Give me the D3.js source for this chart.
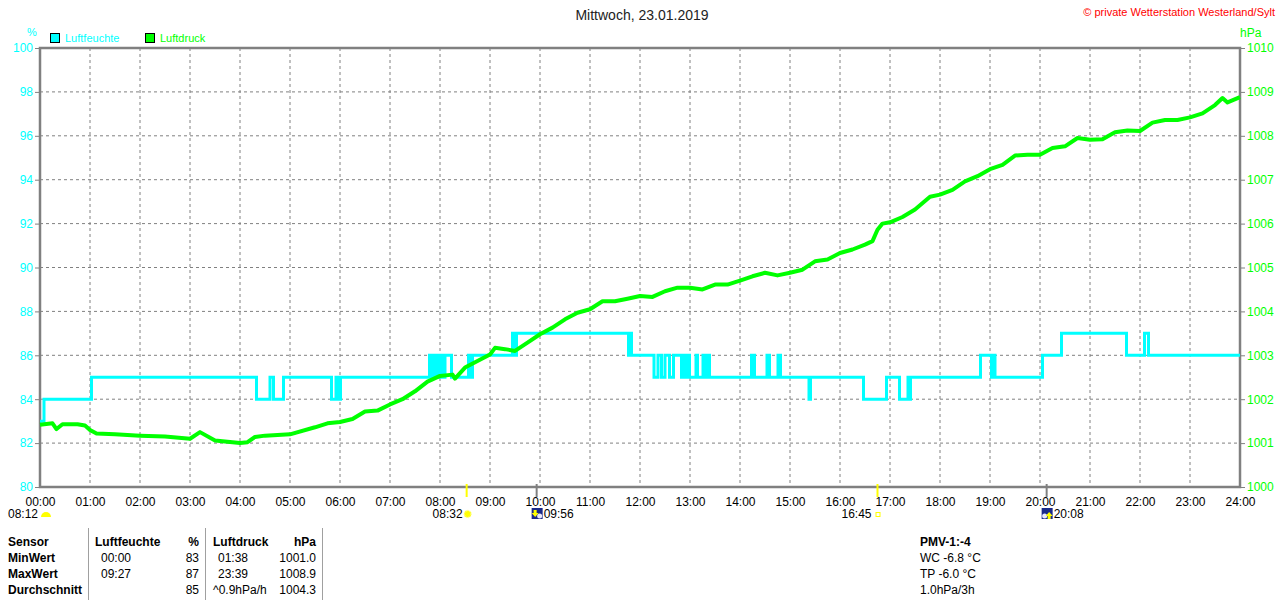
<!DOCTYPE html>
<html>
<head>
<meta charset="utf-8">
<script src="https://cdn.jsdelivr.net/npm/d3@7"></script>
<style>
  body { margin: 0; background: #fff; }
  svg { display: block; font-family: "Liberation Sans", Arial, sans-serif; }
</style>
</head>
<body>
<svg width="1280" height="600"></svg>
<script>
const hourLabels = d3.range(0, 25).map(h => String(h).padStart(2, '0') + ':00');
const humTicks = [80, 82, 84, 86, 88, 90, 92, 94, 96, 98, 100];
const presTicks = [1000, 1001, 1002, 1003, 1004, 1005, 1006, 1007, 1008, 1009, 1010];

// Luftfeuchte: [Stunde, %] — Wert gilt ab diesem Zeitpunkt
const humSteps = [
  [0, 83], [0.08, 84], [1.03, 85], [4.33, 84], [4.6, 85], [4.67, 84], [4.87, 85],
  [5.83, 84], [5.92, 85], [5.95, 84], [6.01, 85],
  [7.79, 86], [7.83, 85], [7.86, 86], [7.9, 85], [7.94, 86], [7.98, 85], [8.02, 86], [8.04, 85],
  [8.1, 86], [8.23, 85], [8.57, 86], [8.61, 85], [8.65, 86],
  [9.45, 87], [9.5, 86], [9.53, 87],
  [11.77, 86], [11.8, 87], [11.83, 86],
  [12.28, 85], [12.36, 86], [12.43, 85], [12.5, 86], [12.59, 85], [12.67, 86],
  [12.83, 85], [12.87, 86], [12.9, 85], [12.95, 86], [12.99, 85],
  [13.12, 86], [13.15, 85], [13.26, 86], [13.29, 85], [13.35, 86], [13.39, 85],
  [14.23, 86], [14.29, 85], [14.54, 86], [14.59, 85], [14.76, 86], [14.81, 85],
  [15.38, 84], [15.41, 85], [16.47, 84], [16.93, 85], [17.19, 84], [17.36, 85], [17.38, 84], [17.41, 85],
  [18.81, 86], [19.03, 85], [19.05, 86], [19.1, 85], [20.05, 86], [20.43, 87],
  [21.73, 86], [22.09, 87], [22.17, 86], [24, 86]
];

// Luftdruck: Stunden und hPa
const presHours = [
  0, 0.25, 0.33, 0.45, 0.75, 0.9, 1.0, 1.13, 1.5, 2.0, 2.5, 3.0, 3.2, 3.5, 3.75, 4.0, 4.15, 4.3, 4.5, 5.0,
  5.5, 5.75, 6.0, 6.25, 6.5, 6.75, 7.0, 7.25, 7.5, 7.75, 8.0, 8.25, 8.3, 8.5, 8.75, 9.0, 9.1, 9.3, 9.5, 9.75,
  10.0, 10.25, 10.5, 10.75, 11.0, 11.25, 11.5, 11.75, 12.0, 12.25, 12.5, 12.75, 13.0, 13.25, 13.5, 13.75,
  14.0, 14.25, 14.5, 14.75, 15.0, 15.25, 15.5, 15.75, 16.0, 16.25, 16.5, 16.65, 16.75, 16.85, 17.0, 17.25,
  17.5, 17.8, 18.0, 18.25, 18.5, 18.75, 19.0, 19.25, 19.5, 19.75, 20.0, 20.25, 20.5, 20.75, 21.0, 21.25,
  21.5, 21.75, 22.0, 22.25, 22.5, 22.75, 23.0, 23.25, 23.5, 23.65, 23.75, 24.0
];
const presValues = [
  1001.42, 1001.45, 1001.32, 1001.43, 1001.43, 1001.4, 1001.3, 1001.22, 1001.2, 1001.17, 1001.15, 1001.1,
  1001.25, 1001.06, 1001.03, 1001.0, 1001.02, 1001.14, 1001.17, 1001.2,
  1001.36, 1001.45, 1001.48, 1001.55, 1001.72, 1001.74, 1001.88, 1002.0, 1002.18, 1002.4, 1002.53, 1002.56,
  1002.47, 1002.72, 1002.87, 1003.02, 1003.17, 1003.14, 1003.1, 1003.29,
  1003.48, 1003.63, 1003.82, 1003.97, 1004.05, 1004.23, 1004.23, 1004.29, 1004.35, 1004.33, 1004.46, 1004.54,
  1004.54, 1004.5, 1004.61, 1004.61,
  1004.7, 1004.8, 1004.88, 1004.82, 1004.88, 1004.95, 1005.14, 1005.18, 1005.33, 1005.41, 1005.52, 1005.6,
  1005.86, 1006.0, 1006.03, 1006.15,
  1006.32, 1006.61, 1006.66, 1006.77, 1006.96, 1007.08, 1007.24, 1007.34, 1007.55, 1007.57, 1007.57, 1007.72,
  1007.76, 1007.95, 1007.91, 1007.92,
  1008.08, 1008.12, 1008.11, 1008.30, 1008.36, 1008.36, 1008.42, 1008.51, 1008.70, 1008.86, 1008.76, 1008.88
];

// Sonne / Mond Ereignisse
const sunEvents = [
  { hour: 8.12, label: '08:12', kind: 'rise' },
  { hour: 8.533, label: '08:32', kind: 'sun' },
  { hour: 9.933, label: '09:56', kind: 'moonset' },
  { hour: 16.75, label: '16:45', kind: 'set' },
  { hour: 20.133, label: '20:08', kind: 'moonrise' }
];

const tableHeader = ['Sensor', 'Luftfeuchte', '%', 'Luftdruck', 'hPa'];
const tableRows = [
  ['MinWert', '00:00', '83', '01:38', '1001.0'],
  ['MaxWert', '09:27', '87', '23:39', '1008.9'],
  ['Durchschnitt', '', '85', '^0.9hPa/h', '1004.3']
];
const pmvLines = ['PMV-1:-4', 'WC -6.8 °C', 'TP -6.0 °C', '1.0hPa/3h'];

const cyan = '#00ffff', green = '#00ff00', grey = '#808080';
const L = 40, R = 1240, T = 48, B = 487;

const svg = d3.select('svg');
const x = d3.scaleLinear().domain([0, 24]).range([L, R]);
const yH = d3.scaleLinear().domain([80, 100]).range([B, T]);
const yP = d3.scaleLinear().domain([1000, 1010]).range([B, T]);

// Raster
svg.append('g').selectAll('line').data(d3.range(1, 24)).join('line')
  .attr('x1', d => x(d)).attr('x2', d => x(d)).attr('y1', T).attr('y2', B)
  .attr('stroke', grey).attr('stroke-dasharray', '3,3');
svg.append('g').selectAll('line').data(humTicks.slice(1, -1)).join('line')
  .attr('x1', L).attr('x2', R).attr('y1', d => yH(d)).attr('y2', d => yH(d))
  .attr('stroke', grey).attr('stroke-dasharray', '3,3');

// Achsen
const axL = svg.append('g').attr('transform', `translate(${L},0)`)
  .call(d3.axisLeft(yH).tickValues(humTicks).tickSize(5).tickPadding(2));
axL.selectAll('text').attr('fill', cyan).style('font-size', '12px');
const axR = svg.append('g').attr('transform', `translate(${R},0)`)
  .call(d3.axisRight(yP).tickValues(presTicks).tickSize(5).tickPadding(2).tickFormat(d3.format('d')));
axR.selectAll('text').attr('fill', green).style('font-size', '12px');
[axL, axR].forEach(a => {
  a.select('.domain').remove();
  a.selectAll('line').attr('stroke', grey);
});

const axB = svg.append('g').attr('transform', `translate(0,${B})`)
  .call(d3.axisBottom(x).tickValues(d3.range(0, 25)).tickSize(0).tickPadding(10)
    .tickFormat(d => hourLabels[d]));
axB.select('.domain').remove();
axB.selectAll('text').attr('fill', '#000').style('font-size', '12px');

// Rahmen
svg.append('rect').attr('x', L).attr('y', T).attr('width', R - L).attr('height', B - T)
  .attr('fill', 'none').attr('stroke', grey).attr('stroke-width', 2.5);

// Linien
const humLine = d3.line().x(d => x(d[0])).y(d => yH(d[1])).curve(d3.curveStepAfter);
svg.append('path').datum(humSteps).attr('d', humLine)
  .attr('fill', 'none').attr('stroke', cyan).attr('stroke-width', 3);

const presData = presHours.map((h, i) => [h, presValues[i]]);
const presLine = d3.line().x(d => x(d[0])).y(d => yP(d[1]));
svg.append('path').datum(presData).attr('d', presLine)
  .attr('fill', 'none').attr('stroke', green).attr('stroke-width', 4).attr('stroke-linejoin', 'round');

// Legende, Einheiten, Titel
svg.append('text').attr('x', 27).attr('y', 36).attr('fill', cyan).style('font-size', '11px').text('%');
svg.append('text').attr('x', 1240).attr('y', 37).attr('fill', green).style('font-size', '12px').text('hPa');
const legend = [{ name: 'Luftfeuchte', color: cyan, x: 50 }, { name: 'Luftdruck', color: green, x: 145 }];
legend.forEach(l => {
  svg.append('rect').attr('x', l.x + 0.5).attr('y', 33.5).attr('width', 9).attr('height', 9)
    .attr('fill', l.color).attr('stroke', '#000');
  svg.append('text').attr('x', l.x + 15).attr('y', 42).attr('fill', l.color)
    .style('font-size', '11px').text(l.name);
});
svg.append('text').attr('x', 642).attr('y', 20).attr('text-anchor', 'middle').attr('fill', '#222')
  .style('font-size', '14px').text('Mittwoch, 23.01.2019');
svg.append('text').attr('x', 1275).attr('y', 16).attr('text-anchor', 'end').attr('fill', '#ff0000')
  .style('font-size', '11px').text('© private Wetterstation Westerland/Sylt');

// Sonnen-/Mondmarker
const ev = svg.append('g');
sunEvents.forEach(e => {
  const ex = x(e.hour);
  if (e.kind === 'sun' || e.kind === 'set') {
    ev.append('line').attr('x1', ex).attr('x2', ex).attr('y1', 484).attr('y2', 497)
      .attr('stroke', '#ffff00').attr('stroke-width', 2);
  }
  if (e.kind === 'moonset' || e.kind === 'moonrise') {
    ev.append('line').attr('x1', ex).attr('x2', ex).attr('y1', 484).attr('y2', 497)
      .attr('stroke', grey).attr('stroke-width', 2);
  }
  const ty = 518;
  if (e.kind === 'rise') {
    ev.append('text').attr('x', 8).attr('y', ty).style('font-size', '12px').text(e.label);
    ev.append('path').attr('d', 'M41,517 A5,5 0 0 1 51,517 Z').attr('fill', '#ffff00');
  } else if (e.kind === 'sun') {
    ev.append('text').attr('x', ex - 4).attr('y', ty).attr('text-anchor', 'end')
      .style('font-size', '12px').text(e.label);
    ev.append('circle').attr('cx', ex + 1).attr('cy', 514).attr('r', 3.5).attr('fill', '#ffff00')
      .attr('stroke', '#ffff99').attr('stroke-width', 1.5).attr('stroke-dasharray', '1,1');
  } else if (e.kind === 'set') {
    ev.append('text').attr('x', ex - 6).attr('y', ty).attr('text-anchor', 'end')
      .style('font-size', '12px').text(e.label);
    ev.append('rect').attr('x', ex - 1.5).attr('y', 512.5).attr('width', 4).attr('height', 4)
      .attr('fill', 'none').attr('stroke', '#ffff00');
  } else {
    const bx = ex - 5;
    ev.append('rect').attr('x', bx).attr('y', 508).attr('width', 11).attr('height', 11).attr('fill', '#1a2a8a');
    ev.append('circle').attr('cx', bx + (e.kind === 'moonset' ? 8 : 3)).attr('cy', 516).attr('r', 2.5).attr('fill', '#e8e8ff');
    ev.append('path')
      .attr('d', e.kind === 'moonset'
        ? `M${bx + 2},510 h3 v3 h2 l-3.5,4 l-3.5,-4 h2 z`
        : `M${bx + 6},519 h3 v-3 h2 l-3.5,-4 l-3.5,4 h2 z`)
      .attr('fill', '#ffff00');
    ev.append('text').attr('x', bx + 12).attr('y', ty).style('font-size', '12px').text(e.label);
  }
});

// Tabelle
const tb = svg.append('g').style('font-size', '12px');
[88.5, 205.5, 322.5].forEach(sx => {
  tb.append('line').attr('x1', sx).attr('x2', sx).attr('y1', 528).attr('y2', 600)
    .attr('stroke', '#a0a0a0');
});
const colX = [8, 95, 199, 213, 316];
const colAnchor = ['start', 'start', 'end', 'start', 'end'];
const rowY = [546, 562, 578, 594];
tableHeader.forEach((t, i) => {
  tb.append('text').attr('x', colX[i]).attr('y', rowY[0]).attr('text-anchor', colAnchor[i])
    .style('font-weight', 'bold').text(t);
});
const valX = [8, 101, 199, 218, 316];
tableRows.forEach((row, r) => {
  row.forEach((t, i) => {
    const tx = (i === 3 && t.startsWith('^')) ? 213 : valX[i];
    tb.append('text').attr('x', tx).attr('y', rowY[r + 1]).attr('text-anchor', colAnchor[i])
      .style('font-weight', i === 0 ? 'bold' : 'normal').text(t);
  });
});
pmvLines.forEach((t, i) => {
  tb.append('text').attr('x', 920).attr('y', rowY[i])
    .style('font-weight', i === 0 ? 'bold' : 'normal').text(t);
});
</script>
</body>
</html>
